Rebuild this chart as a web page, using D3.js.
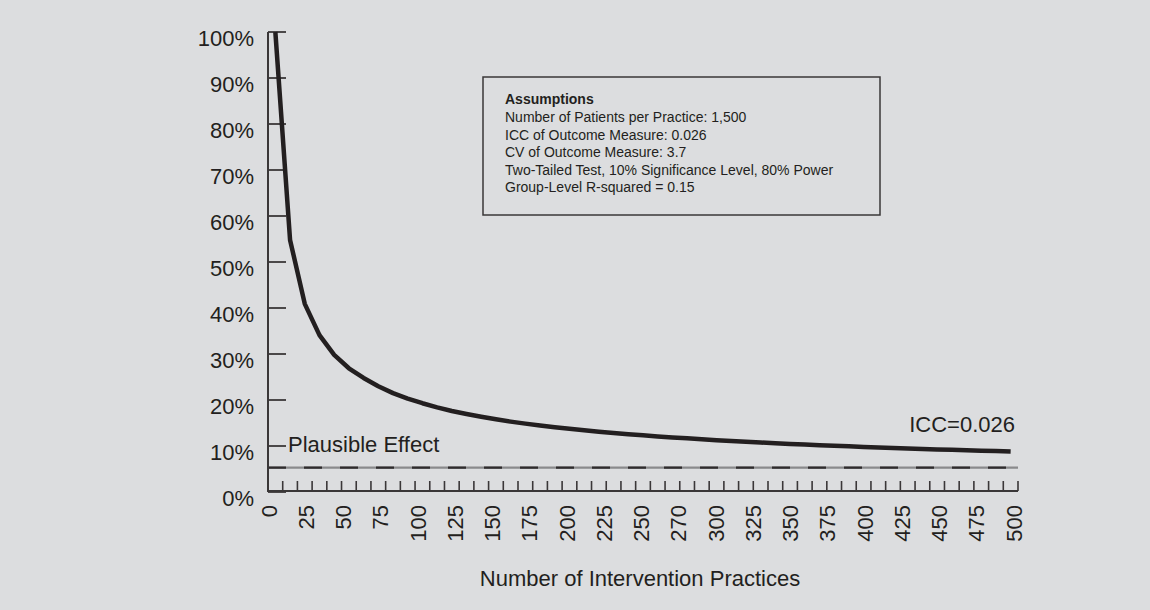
<!DOCTYPE html>
<html>
<head>
<meta charset="utf-8">
<script src="https://cdn.jsdelivr.net/npm/d3@7"></script>
<style>
  html, body { margin: 0; padding: 0; background: #dcdddf; }
  svg { display: block; }
  text { font-family: "Liberation Sans", Arial, Helvetica, sans-serif; fill: #231f20; }
</style>
</head>
<body>
<svg id="chart" width="1150" height="610"></svg>
<script>
// ---- Data ----
const practices = [0,10,20,30,40,50,60,70,80,90,100,110,120,130,140,150,160,170,180,190,200,
  210,220,230,240,250,260,270,280,290,300,310,320,330,340,350,360,370,380,390,400,
  410,420,430,440,450,460,470,480,490,500];
const mdePercent = [100,54.8,40.9,34.1,29.8,26.9,24.8,23.0,21.5,20.3,19.3,18.4,17.6,16.95,16.35,15.8,15.3,14.86,14.45,14.08,13.75,
  13.42,13.11,12.83,12.56,12.32,12.08,11.86,11.66,11.46,11.27,11.09,10.92,10.76,10.61,10.46,10.32,10.18,10.05,9.93,9.8,
  9.69,9.58,9.47,9.36,9.26,9.17,9.07,8.98,8.89,8.8];
const xTickValues = [0,25,50,75,100,125,150,175,200,225,250,275,300,325,350,375,400,425,450,475,500];
const xTickLabels = ["0","25","50","75","100","125","150","175","200","225","250","270","300","325","350","375","400","425","450","475","500"];
const yTickValues = [0,10,20,30,40,50,60,70,80,90,100];
const plausibleEffect = 5.3;
const seriesLabel = "ICC=0.026";
const plausibleLabel = "Plausible Effect";
const xTitle = "Number of Intervention Practices";
const assumptionsTitle = "Assumptions";
const assumptionsLines = [
  "Number of Patients per Practice: 1,500",
  "ICC of Outcome Measure: 0.026",
  "CV of Outcome Measure: 3.7",
  "Two-Tailed Test, 10% Significance Level, 80% Power",
  "Group-Level R-squared = 0.15"
];

// ---- Layout ----
const plotLeft = 268, plotRight = 1018, plotTop = 32, plotBottom = 492;
const ink = "#231f20";
const svg = d3.select("#chart");
svg.append("rect").attr("width", 1150).attr("height", 610).attr("fill", "#dcdddf");

const x = d3.scaleBand().domain(practices).range([plotLeft, plotRight]).padding(0);
const xLab = d3.scaleLinear().domain([0, 500]).range([269, 1014]);
const y = d3.scaleLinear().domain([0, 100]).range([plotBottom, plotTop]);

// Plausible effect dashed line
const dashY = y(plausibleEffect);
svg.append("line").attr("x1", plotLeft).attr("x2", plotRight).attr("y1", dashY).attr("y2", dashY)
  .attr("stroke", "#8a8a8c").attr("stroke-width", 2.2);
svg.append("line").attr("x1", plotLeft).attr("x2", plotRight).attr("y1", dashY).attr("y2", dashY)
  .attr("stroke", "#2e2b2c").attr("stroke-width", 2.2).attr("stroke-dasharray", "18,18");

// Y axis
svg.append("line").attr("x1", plotLeft).attr("x2", plotLeft).attr("y1", plotTop).attr("y2", plotBottom)
  .attr("stroke", "#3a3738").attr("stroke-width", 2);
svg.selectAll(".ytick").data(yTickValues).enter().append("line")
  .attr("x1", plotLeft).attr("x2", plotLeft + 18)
  .attr("y1", d => y(d)).attr("y2", d => y(d))
  .attr("stroke", "#3a3738").attr("stroke-width", 1.8);
svg.selectAll(".ylab").data(yTickValues).enter().append("text")
  .attr("x", 254).attr("y", d => y(d) + 14)
  .attr("text-anchor", "end").attr("font-size", 22)
  .text(d => d + "%");

// X axis
svg.append("line").attr("x1", plotLeft).attr("x2", plotRight).attr("y1", plotBottom - 1).attr("y2", plotBottom - 1)
  .attr("stroke", "#3a3738").attr("stroke-width", 2);
const edges = practices.map(p => x(p)).concat([plotRight]);
svg.selectAll(".xtick").data(edges).enter().append("line")
  .attr("x1", d => d).attr("x2", d => d)
  .attr("y1", plotBottom - 1).attr("y2", plotBottom - 11)
  .attr("stroke", "#3a3738").attr("stroke-width", 1.6);
svg.selectAll(".xlab").data(xTickValues).enter().append("text")
  .attr("transform", d => `translate(${xLab(d)},505) rotate(-90)`)
  .attr("dy", "0.35em")
  .attr("text-anchor", "end").attr("font-size", 22)
  .text((d, i) => xTickLabels[i]);

// Curve
const line = d3.line()
  .x((d, i) => x(practices[i]) + x.bandwidth() / 2)
  .y(d => y(d));
svg.append("path").datum(mdePercent).attr("d", line)
  .attr("fill", "none").attr("stroke", ink).attr("stroke-width", 4.5)
  .attr("stroke-linejoin", "round").attr("stroke-linecap", "butt");

// Labels
svg.append("text").attr("x", 288).attr("y", y(10) + 6).attr("font-size", 22).text(plausibleLabel);
svg.append("text").attr("x", 1015).attr("y", 432).attr("text-anchor", "end").attr("font-size", 22).text(seriesLabel);
svg.append("text").attr("x", 640).attr("y", 586).attr("text-anchor", "middle").attr("font-size", 22).text(xTitle);

// Assumptions box
svg.append("rect").attr("x", 483).attr("y", 77).attr("width", 397).attr("height", 138)
  .attr("fill", "none").attr("stroke", "#3a3738").attr("stroke-width", 1.5);
svg.append("text").attr("x", 505).attr("y", 104).attr("font-size", 14).attr("font-weight", "bold").text(assumptionsTitle);
svg.selectAll(".aline").data(assumptionsLines).enter().append("text")
  .attr("x", 505).attr("y", (d, i) => 122 + i * 17.5).attr("font-size", 14).text(d => d);
</script>
</body>
</html>
